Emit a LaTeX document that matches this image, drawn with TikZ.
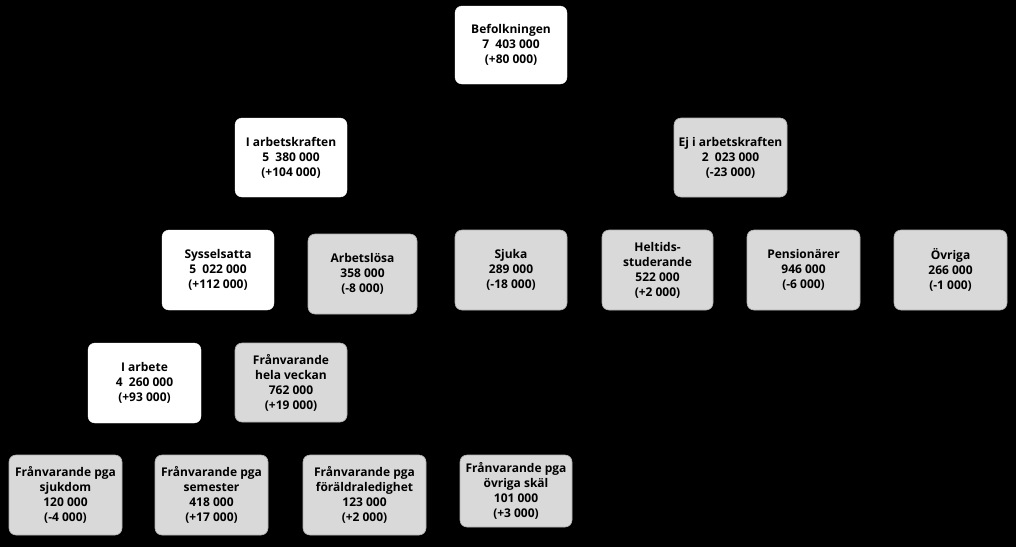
\documentclass[tikz,border=0pt]{standalone}
\usepackage{fontspec}
\setmainfont{Open Sans}
\definecolor{boxgray}{HTML}{D9D9D9}
\definecolor{boxline}{HTML}{B0B0B0}
\begin{document}
\begin{tikzpicture}[x=1pt,y=-1pt,
  base/.style={rounded corners=7pt, align=center, inner sep=0pt,
    font=\fontsize{12}{15}\selectfont\bfseries},
  wbox/.style={base, fill=white, draw=white},
  gbox/.style={base, fill=boxgray, draw=boxline, line width=0.6pt}]
\fill[black] (0,0) rectangle (1016,547);
\useasboundingbox (0,0) rectangle (1016,547);
\node[wbox, minimum width=112, minimum height=78] (bef) at (511,45) {Befolkningen\\7\ \ 403 000\\(+80 000)};
\node[wbox, minimum width=112, minimum height=79] (iak) at (291,157.5) {I arbetskraften\\5\ \ 380 000\\(+104 000)};
\node[gbox, minimum width=113, minimum height=79] (ejak) at (730.5,157.5) {Ej i arbetskraften\\2\ \ 023 000\\(-23 000)};
\node[wbox, minimum width=112, minimum height=80] (syss) at (218,270) {Sysselsatta\\5\ \ 022 000\\(+112 000)};
\node[gbox, minimum width=109, minimum height=80] (arbl) at (362.5,274) {Arbetslösa\\358 000\\(-8 000)};
\node[gbox, minimum width=112, minimum height=80] (sjuka) at (511,270) {Sjuka\\289 000\\(-18 000)};
\node[gbox, minimum width=111, minimum height=80] (helt) at (657.5,270) {Heltids-\\studerande\\522 000\\(+2 000)};
\node[gbox, minimum width=113, minimum height=80] (pens) at (803.5,270) {Pensionärer\\946 000\\(-6 000)};
\node[gbox, minimum width=113, minimum height=80] (ovr) at (950.5,270) {Övriga\\266 000\\(-1 000)};
\node[wbox, minimum width=113, minimum height=80] (iarb) at (144.5,383) {I arbete\\4\ \ 260 000\\(+93 000)};
\node[gbox, minimum width=112, minimum height=79] (fhv) at (291,382.5) {Frånvarande\\hela veckan\\762 000\\(+19 000)};
\node[gbox, minimum width=113, minimum height=80] (fsj) at (65.5,495) {Frånvarande pga\\sjukdom\\120 000\\(-4 000)};
\node[gbox, minimum width=113, minimum height=80] (fsem) at (211.5,495) {Frånvarande pga\\semester\\418 000\\(+17 000)};
\node[gbox, minimum width=123, minimum height=80] (ffor) at (364.5,495) {Frånvarande pga\\föräldraledighet\\123 000\\(+2 000)};
\node[gbox, minimum width=112, minimum height=72] (fovr) at (516,491) {Frånvarande pga\\övriga skäl\\101 000\\(+3 000)};
\end{tikzpicture}
\end{document}
